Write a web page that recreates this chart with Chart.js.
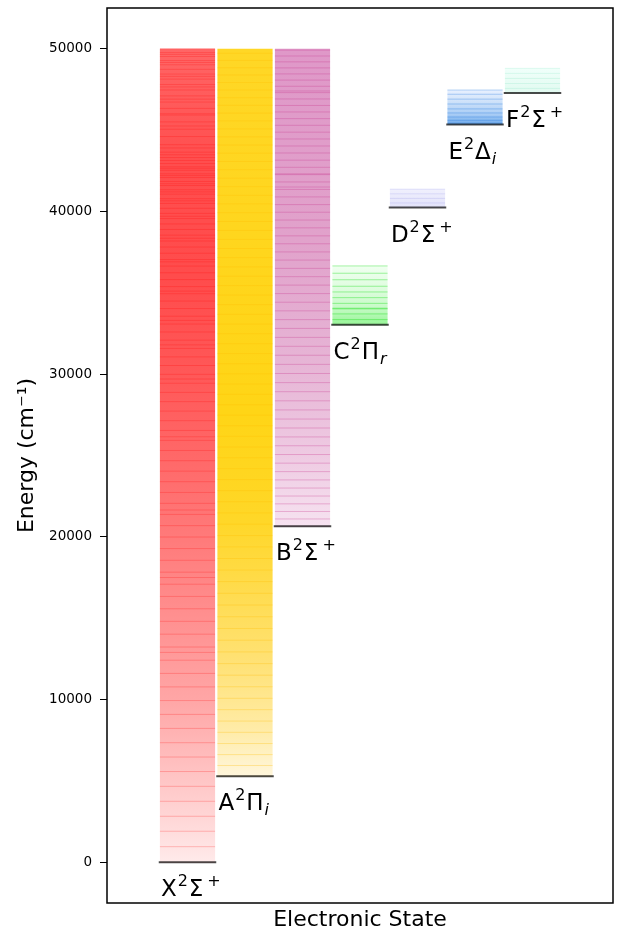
<!DOCTYPE html>
<html>
<head>
<meta charset="utf-8">
<script src="https://cdn.jsdelivr.net/npm/chart.js@4.4.1/dist/chart.umd.min.js"></script>
<style>
  html, body { margin: 0; padding: 0; background: #fff; }
</style>
</head>
<body>
<canvas id="c" width="620" height="931"></canvas>
<script>
// Electronic states: term symbol pieces
const stateLetters = ['X', 'A', 'B', 'C', 'D', 'E', 'F'];
const stateLambda  = ['Σ', 'Π', 'Σ', 'Π', 'Σ', 'Δ', 'Σ'];
const stateSup     = ['+', '',  '+', '',  '+', '',  '+'];
const stateSub     = ['',  'i', '',  'r', '',  'i', ''];

// Term energies (cm^-1) of each state's lowest level and highest plotted level
const groundEnergy = [0, 5290, 20650, 33030, 40240, 45340, 47270];
const topEnergy    = [50000, 50000, 50000, 36650, 41370, 47460, 48790];

// Rovibronic level energies (cm^-1) for each state
const levelsX = [0, 960, 1910, 2830, 3750, 4670, 5580, 6470, 7350, 8230, 9090, 9940, 10780, 11610,
  12420, 12900, 13230, 14020, 14810, 15580, 16340, 17090, 17500, 17830, 18560, 19280, 19990, 20690,
  21380, 21650, 22060, 22730, 23390, 24040, 24680, 25310, 25930, 26150, 26540, 27140, 27730, 28310,
  28880, 29440, 29700, 29990, 30530, 31060, 31580, 31800, 32090, 32590, 33080, 33300, 33560, 34030,
  34490, 34940, 35100, 35380, 35810, 36230, 36640, 36900, 37040, 37430, 37810, 38180, 38350, 38540,
  38890, 39230, 39560, 39700, 39880, 40190, 40490, 40650, 40780, 41060, 41200, 41330, 41590, 41700,
  41840, 42080, 42200, 42310, 42530, 42650, 42740, 42940, 43130, 43310, 43480, 43640, 43900, 44100,
  44600, 45050, 45250, 45500, 45920, 46000, 46330, 46720, 46900, 47100, 47460, 47650, 47800, 48130,
  48300, 48440, 48730, 49010, 49150, 49270, 49520, 49650, 49760, 50000];
const levelsA = [5290, 5950, 6620, 7300, 7990, 8680, 9380, 10080, 10790, 11500, 12210, 12930, 13650,
  14370, 15090, 15810, 16530, 17250, 17960, 18670, 19380, 20080, 20780, 21470, 22160, 22840, 23520,
  24190, 24860, 25520, 26180, 26830, 27480, 28120, 28760, 29390, 30020, 30640, 31260, 31870, 32480,
  33080, 33680, 34270, 34860, 35440, 36020, 36590, 37160, 37720, 38280, 38830, 39380, 39920, 40460,
  40990, 41520, 42040, 42560, 43070, 43580, 44080, 44580, 45070, 45560, 46040, 46520, 46990, 47460,
  47920, 48380, 48830, 49280, 49720];
const levelsB = [20650, 21100, 21560, 22030, 22510, 23000, 23500, 24010, 24530, 25060, 25600, 26140,
  26690, 27240, 27800, 28360, 28920, 29480, 30040, 30600, 31160, 31710, 32260, 32810, 33350, 33890,
  34420, 34950, 35470, 35990, 36500, 37010, 37510, 38010, 38500, 38990, 39470, 39950, 40420, 40890,
  41350, 41500, 41810, 42260, 42310, 42710, 43150, 43590, 44020, 44450, 44870, 45290, 45700, 46110,
  46510, 46910, 47300, 47400, 47690, 48070, 48450, 48820, 49190, 49550, 49910];
const levelsC = [33030, 33350, 33700, 34010, 34050, 34350, 34700, 35050, 35400, 35800, 36200, 36650];
const levelsD = [40240, 40520, 40800, 41080, 41370];
const levelsE = [45340, 45420, 45600, 45800, 46050, 46300, 46600, 46900, 47200, 47460];
const levelsF = [47270, 47560, 47860, 48170, 48480, 48790];
const stateLevels = [levelsX, levelsA, levelsB, levelsC, levelsD, levelsE, levelsF];

const yTicks = [0, 10000, 20000, 30000, 40000, 50000];

// ---- styles ----
const FONT = 'DejaVu Sans';
const levelColors = [
  'rgba(255,0,0,0.22)', 'rgba(255,190,0,0.30)', 'rgba(200,50,140,0.30)', 'rgba(0,220,0,0.35)',
  'rgba(120,120,230,0.18)', 'rgba(0,100,220,0.28)', 'rgba(100,220,180,0.18)'
];
const fillStops = [
  [[0, 'rgb(255,234,234)'], [0.1, 'rgb(255,198,198)'], [0.2, 'rgb(255,166,166)'], [0.3, 'rgb(255,144,144)'],
   [0.4, 'rgb(255,122,122)'], [0.5, 'rgb(255,104,104)'], [0.6, 'rgb(255,88,88)'], [0.72, 'rgb(255,76,76)'],
   [0.86, 'rgb(255,78,78)'], [1, 'rgb(255,102,102)']],
  [[0, 'rgb(255,246,220)'], [0.06, 'rgb(255,236,170)'], [0.15, 'rgb(255,226,120)'], [0.25, 'rgb(255,220,80)'],
   [0.35, 'rgb(255,215,40)'], [0.5, 'rgb(255,213,22)'], [1, 'rgb(255,215,38)']],
  [[0, 'rgb(246,226,240)'], [0.15, 'rgb(238,202,226)'], [0.35, 'rgb(230,180,213)'], [0.6, 'rgb(225,162,203)'],
   [1, 'rgb(223,152,200)']],
  [[0, 'rgb(150,245,150)'], [0.3, 'rgb(200,250,200)'], [0.6, 'rgb(222,252,222)'], [1, 'rgb(240,255,240)']],
  [[0, 'rgb(226,226,250)'], [1, 'rgb(240,240,253)']],
  [[0, 'rgb(110,170,235)'], [0.3, 'rgb(170,205,245)'], [0.7, 'rgb(210,228,250)'], [1, 'rgb(232,240,255)']],
  [[0, 'rgb(225,250,240)'], [1, 'rgb(240,255,250)']]
];
const HALF = 0.48;

// Each level becomes a short horizontal segment across its state's column
function levelSegments(levels, i, half) {
  const pts = [];
  levels.forEach(e => {
    pts.push({ x: i - half, y: e }, { x: i + half, y: e }, { x: i, y: null });
  });
  return pts;
}

function columnGradient(ctx) {
  const chart = ctx.chart;
  const area = chart.chartArea;
  if (!area) return 'rgba(0,0,0,0)';
  const i = ctx.dataIndex;
  const ys = chart.scales.y;
  const y0 = ys.getPixelForValue(groundEnergy[i]);
  const y1 = ys.getPixelForValue(topEnergy[i]);
  const g = chart.ctx.createLinearGradient(0, y0, 0, y1);
  fillStops[i].forEach(([f, c]) => g.addColorStop(f, c));
  return g;
}

const datasets = [];
datasets.push({
  type: 'bar',
  order: 10,
  data: stateLetters.map((_, i) => ({ x: i, y: [groundEnergy[i], topEnergy[i]] })),
  backgroundColor: columnGradient,
  borderWidth: 0,
  categoryPercentage: 1.0,
  barPercentage: 0.96
});
stateLevels.forEach((levels, i) => {
  datasets.push({
    type: 'line',
    order: 5,
    data: levelSegments(levels, i, HALF),
    borderColor: levelColors[i],
    borderWidth: 1,
    pointRadius: 0,
    spanGaps: false,
    fill: false
  });
});
datasets.push({
  type: 'line',
  order: 1,
  data: groundEnergy.flatMap((e, i) => [{ x: i - 0.5, y: e }, { x: i + 0.5, y: e }, { x: i, y: null }]),
  borderColor: 'rgba(30,30,30,0.8)',
  borderWidth: 2,
  pointRadius: 0,
  spanGaps: false,
  fill: false
});

// Term-symbol labels under each state's lowest level, plus the frame
const termLabels = {
  id: 'termLabels',
  afterDatasetsDraw(chart) {
    const { ctx, scales: { x, y }, chartArea } = chart;
    ctx.save();
    ctx.fillStyle = '#000';
    ctx.textBaseline = 'alphabetic';
    ctx.textAlign = 'left';
    stateLetters.forEach((L, i) => {
      let px = x.getPixelForValue(i - HALF) + 1;
      const py = y.getPixelForValue(groundEnergy[i]) + 34;
      ctx.font = `23px "${FONT}"`;
      ctx.fillText(L, px, py); px += ctx.measureText(L).width + 1;
      ctx.font = `16px "${FONT}"`;
      ctx.fillText('2', px, py - 10); px += ctx.measureText('2').width + 1;
      ctx.font = `23px "${FONT}"`;
      ctx.fillText(stateLambda[i], px, py); px += ctx.measureText(stateLambda[i]).width;
      if (stateSup[i]) {
        ctx.font = `16px "${FONT}"`;
        ctx.fillText(stateSup[i], px + 4, py - 10);
      }
      if (stateSub[i]) {
        ctx.font = `italic 16px "${FONT}"`;
        ctx.fillText(stateSub[i], px + 1, py + 5);
      }
    });
    ctx.strokeStyle = '#000';
    ctx.lineWidth = 1.5;
    ctx.strokeRect(chartArea.left, chartArea.top, chartArea.right - chartArea.left, chartArea.bottom - chartArea.top);
    ctx.restore();
  }
};

new Chart(document.getElementById('c'), {
  data: { datasets },
  options: {
    responsive: false,
    animation: false,
    layout: { padding: { top: 0, right: 7, left: 0, bottom: 0 } },
    plugins: { legend: { display: false }, tooltip: { enabled: false } },
    scales: {
      x: {
        type: 'linear', min: -1.4, max: 7.4, offset: false,
        grid: { display: false },
        border: { display: false },
        ticks: { display: false },
        title: { display: true, text: 'Electronic State', color: '#000',
                 font: { family: FONT, size: 22, lineHeight: 1.0 }, padding: { top: 0, bottom: 0 } },
        afterFit(s) { s.height = 28; }
      },
      y: {
        type: 'linear', min: -2500, max: 52500,
        afterBuildTicks(s) { s.ticks = yTicks.map(v => ({ value: v })); },
        ticks: { color: '#000', font: { family: FONT, size: 13.5 }, padding: 8,
                 callback: v => String(v) },
        grid: { drawOnChartArea: false, drawTicks: true, tickLength: 7, color: '#000', lineWidth: 1 },
        border: { display: false },
        title: { display: true, text: 'Energy (cm⁻¹)', color: '#000',
                 font: { family: FONT, size: 22 }, padding: { top: 14, bottom: 0 } },
        afterFit(s) { s.width = 107; s.paddingTop = 8; s.paddingBottom = 0; }
      }
    }
  },
  plugins: [termLabels]
});
</script>
</body>
</html>
